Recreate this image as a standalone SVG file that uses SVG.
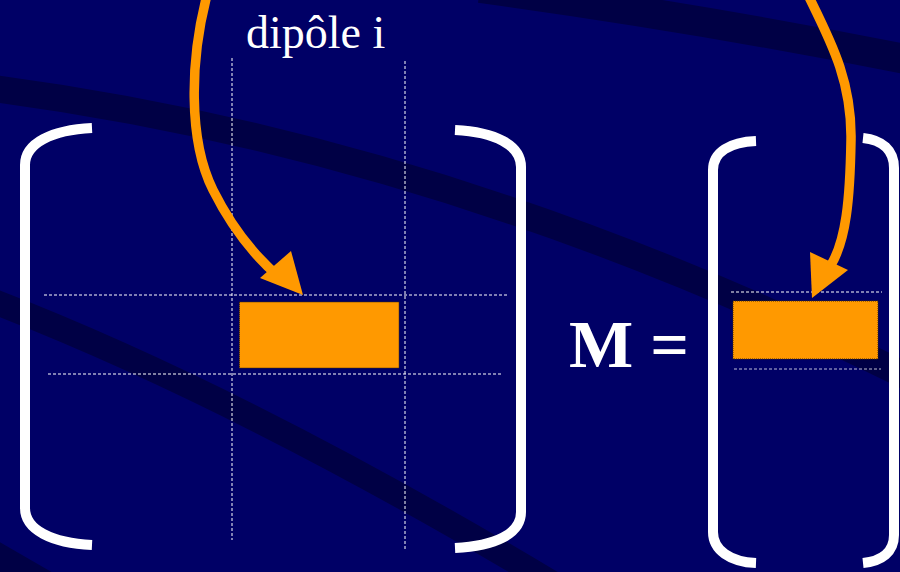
<svg xmlns="http://www.w3.org/2000/svg" width="900" height="572" viewBox="0 0 900 572">
<style>
.stripe{fill:none;stroke:#000045;}
.bracket{fill:none;stroke:#ffffff;stroke-width:10;}
.grid{fill:none;stroke:#ffffff;stroke-width:1;stroke-dasharray:3,2;}
.cell{fill:#ff9900;stroke:#4a3000;stroke-width:1;stroke-dasharray:1,1;}
.arrow{fill:none;stroke:#ff9900;stroke-width:9.5;}
.head{fill:#ff9900;}
</style>
<rect x="0" y="0" width="900" height="572" fill="#000066"/>
<g id="background">
<path class="stripe" d="M480,-12 Q700,18 910,60" stroke-width="30"/>
<path class="stripe" d="M-10,88 Q450,148 910,378" stroke-width="27"/>
<path class="stripe" d="M-10,300 Q250,400 580,600" stroke-width="25"/>
<path class="stripe" d="M-25,545 L70,600" stroke-width="30"/>
</g>
<g id="grid">
<line class="grid" x1="232" y1="58" x2="232" y2="540"/>
<line class="grid" x1="405" y1="61" x2="405" y2="550"/>
<line class="grid" x1="44" y1="295" x2="507" y2="295"/>
<line class="grid" x1="48" y1="374" x2="502" y2="374"/>
<line class="grid" x1="731" y1="292" x2="882" y2="292"/>
<line class="grid" x1="734" y1="369" x2="881" y2="369" stroke-opacity="0.75"/>
</g>
<g id="matrix-left">
<path class="bracket" d="M92,128 C52,130 25,143 25,165 L25,508 C25,530 52,543 92,545"/>
<path class="bracket" d="M455,130 C495,132 521,145 521,167 L521,512 C521,534 495,546 455,548"/>
<rect id="cell-left" class="cell" x="239.5" y="302" width="159.5" height="66"/>
</g>
<g id="matrix-right">
<path class="bracket" d="M756,141 C730,142 713,152 713,170 L713,532 C713,550 730,562 756,563"/>
<path class="bracket" d="M863,138 C882,140 894,150 894,168 L894,535 C894,552 882,561 863,563"/>
<rect id="cell-right" class="cell" x="733" y="301" width="145" height="58"/>
</g>
<g id="labels">
<text id="dipole-label" x="246" y="48" font-family="Liberation Serif, Times New Roman, serif" font-size="46" fill="#ffffff">dipôle i</text>
<text id="m-label" x="569" y="367" font-family="Liberation Serif, Times New Roman, serif" font-size="68" font-weight="bold" fill="#ffffff">M =</text>
</g>
<g id="connectors">
<path class="arrow" d="M207,-5 C190,60 188,140 213,190 C233,230 255,256 278,276"/>
<polygon class="head" points="260,278 291,251 303,295"/>
<path class="arrow" d="M808,-5 C830,40 852,80 851,140 C850,200 846,240 831,265"/>
<polygon class="head" points="810,252 848,270 812,298"/>
</g>
</svg>
